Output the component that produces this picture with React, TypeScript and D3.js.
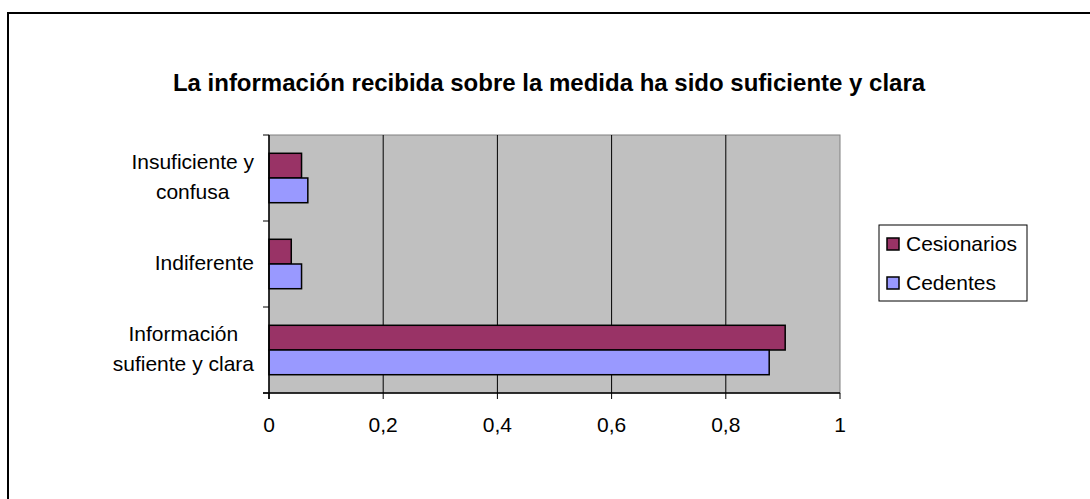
import React, { useEffect, useRef } from "react";
import * as d3 from "d3";

const title = "La información recibida sobre la medida ha sido suficiente y clara";
const categories = [
  ["Insuficiente y", "confusa"],
  ["Indiferente"],
  ["Información", "sufiente y clara"],
];
const seriesNames = ["Cesionarios", "Cedentes"];
const seriesColors = ["#993366", "#9999FF"];
const cesionarios = [0.057, 0.039, 0.904];
const cedentes = [0.068, 0.057, 0.876];
const xTicks = [0, 0.2, 0.4, 0.6, 0.8, 1];

const W = 1090;
const H = 499;
const FONT = "'Liberation Sans', Arial, sans-serif";

export default function App() {
  const ref = useRef<SVGSVGElement | null>(null);

  useEffect(() => {
    document.body.style.margin = "0";
    const svg = d3.select(ref.current);
    svg.selectAll("*").remove();

    const plot = { left: 269, right: 840, top: 135, bottom: 393 };

    // outer frame
    svg.append("rect").attr("x", 8).attr("y", 13).attr("width", W + 20).attr("height", H + 20)
      .attr("fill", "white").attr("stroke", "black").attr("stroke-width", 2);

    // title
    svg.append("text").attr("x", 549).attr("y", 91).attr("text-anchor", "middle")
      .attr("font-family", FONT).attr("font-weight", "bold").attr("font-size", 24)
      .text(title);

    const x = d3.scaleLinear().domain([0, 1]).range([plot.left, plot.right]);
    const y = d3.scaleBand<number>().domain(d3.range(categories.length))
      .range([plot.top, plot.bottom]).paddingInner(0).paddingOuter(0);
    const inner = d3.scaleBand<number>().domain([0, 1])
      .range([0, y.bandwidth()]).paddingInner(0).paddingOuter(0.74);

    // plot background
    svg.append("rect").attr("x", plot.left).attr("y", plot.top)
      .attr("width", plot.right - plot.left).attr("height", plot.bottom - plot.top)
      .attr("fill", "#C0C0C0").attr("stroke", "#808080").attr("stroke-width", 1);

    // gridlines
    svg.append("g").selectAll("line").data(xTicks.filter((t) => t > 0 && t < 1)).join("line")
      .attr("x1", (d) => x(d)).attr("x2", (d) => x(d))
      .attr("y1", plot.top).attr("y2", plot.bottom)
      .attr("stroke", "black").attr("stroke-width", 1);

    // bars
    const series = [cesionarios, cedentes];
    series.forEach((vals, si) => {
      svg.append("g").selectAll("rect").data(vals).join("rect")
        .attr("x", x(0))
        .attr("y", (_d, i) => (y(i) as number) + (inner(si) as number))
        .attr("width", (d) => x(d) - x(0))
        .attr("height", inner.bandwidth())
        .attr("fill", seriesColors[si])
        .attr("stroke", "black").attr("stroke-width", 1.5);
    });

    // axes lines
    svg.append("line").attr("x1", plot.left).attr("x2", plot.left)
      .attr("y1", plot.top).attr("y2", plot.bottom + 6).attr("stroke", "black").attr("stroke-width", 1.5);
    svg.append("line").attr("x1", plot.left - 6).attr("x2", plot.right)
      .attr("y1", plot.bottom).attr("y2", plot.bottom).attr("stroke", "black").attr("stroke-width", 1.5);

    // y ticks at band boundaries
    const bounds = d3.range(categories.length + 1).map((i) => plot.top + i * y.bandwidth());
    svg.append("g").selectAll("line").data(bounds).join("line")
      .attr("x1", plot.left - 6).attr("x2", plot.left)
      .attr("y1", (d) => d).attr("y2", (d) => d)
      .attr("stroke", "black").attr("stroke-width", 1);

    // x ticks
    svg.append("g").selectAll("line").data(xTicks).join("line")
      .attr("x1", (d) => x(d)).attr("x2", (d) => x(d))
      .attr("y1", plot.bottom).attr("y2", plot.bottom + 6)
      .attr("stroke", "black").attr("stroke-width", 1);

    const fmt = (v: number) => String(v).replace(".", ",");
    svg.append("g").selectAll("text").data(xTicks).join("text")
      .attr("x", (d) => x(d)).attr("y", 432).attr("text-anchor", "middle")
      .attr("font-family", FONT).attr("font-size", 21).text((d) => fmt(d));

    // category labels
    const labelRight = 254;
    categories.forEach((lines, i) => {
      const cy = (y(i) as number) + y.bandwidth() / 2;
      const g = svg.append("g");
      const texts = lines.map((ln, j) =>
        g.append("text")
          .attr("y", cy + 6 + (j - (lines.length - 1) / 2) * 30)
          .attr("font-family", FONT).attr("font-size", 21)
          .attr("text-anchor", "middle").text(ln)
      );
      const widths = texts.map((t) => (t.node() as SVGTextElement).getComputedTextLength());
      const maxW = Math.max(...widths);
      texts.forEach((t) => t.attr("x", labelRight - maxW / 2));
    });

    // legend
    svg.append("rect").attr("x", 879).attr("y", 225).attr("width", 148).attr("height", 76)
      .attr("fill", "white").attr("stroke", "black").attr("stroke-width", 1);
    const legY = [238, 277];
    seriesNames.forEach((name, i) => {
      svg.append("rect").attr("x", 887).attr("y", legY[i]).attr("width", 12).attr("height", 12)
        .attr("fill", seriesColors[i]).attr("stroke", "black").attr("stroke-width", 1.5);
      svg.append("text").attr("x", 906).attr("y", legY[i] + 13)
        .attr("font-family", FONT).attr("font-size", 21).text(name);
    });
  }, []);

  return <svg ref={ref} width={W} height={H} style={{ display: "block" }} />;
}
